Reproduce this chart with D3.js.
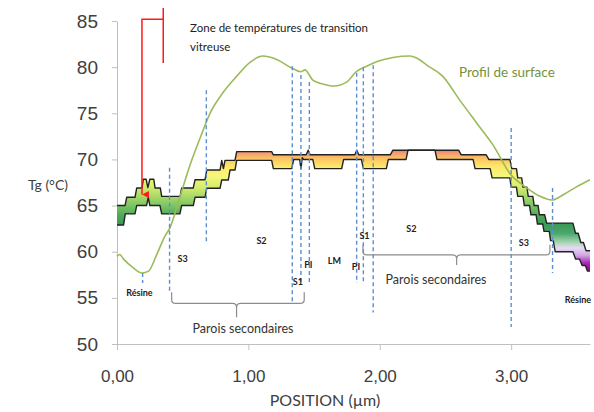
<!DOCTYPE html>
<html>
<head>
<meta charset="utf-8">
<script src="https://cdn.jsdelivr.net/npm/d3@7"></script>
<style>
  body { margin: 0; background: #fff; }
  svg { display: block; font-family: Lato, "Open Sans", sans-serif; }
</style>
</head>
<body>
<svg id="chart" width="594" height="412"></svg>
<script>
// values (position in µm, Tg in °C)
var xTicks = [0, 1, 2, 3];
var xTickLabels = ["0,00", "1,00", "2,00", "3,00"];
var yTicks = [50, 55, 60, 65, 70, 75, 80, 85];

// upper and lower edge of the Tg band
var bandUpper = [
  [0,65.0],[0.061,65.0],[0.074,65.9],[0.137,65.9],[0.15,66.9],[0.19,66.9],[0.20,67.85],[0.222,67.85],
  [0.235,66.95],[0.25,67.85],[0.28,67.85],[0.29,66.9],[0.33,66.9],[0.34,66.0],[0.48,66.0],[0.492,66.9],
  [0.58,66.9],[0.594,67.8],[0.67,67.8],[0.683,68.85],[0.784,68.85],[0.797,69.9],[0.81,69.0],[0.822,69.9],
  [0.898,69.9],[0.911,70.85],[1.177,70.85],[1.19,70.5],[1.44,70.5],[1.455,71.0],[1.47,70.5],[1.81,70.5],
  [1.825,71.0],[1.84,70.5],[2.08,70.5],[2.10,71.0],[2.60,71.0],[2.62,70.5],[2.81,70.5],[2.83,70.0],
  [2.99,70.0],[3.005,69.0],[3.04,69.0],[3.05,68.0],[3.08,68.0],[3.09,67.0],[3.12,67.0],[3.13,66.0],
  [3.165,66.0],[3.175,65.0],[3.205,65.0],[3.215,64.0],[3.255,64.0],[3.27,63.1],[3.47,63.1],[3.49,62.0],
  [3.51,62.0],[3.53,61.0],[3.55,61.0],[3.57,60.1],[3.6,60.1]
];
var bandLower = [
  [0,62.9],[0.05,62.9],[0.063,64.1],[0.137,64.1],[0.15,65.0],[0.225,65.0],[0.238,65.9],[0.25,65.0],
  [0.327,65.0],[0.34,64.1],[0.479,64.1],[0.492,65.0],[0.581,65.0],[0.594,65.9],[0.67,65.9],[0.683,66.87],
  [0.784,66.87],[0.797,67.77],[0.847,67.77],[0.86,68.85],[0.898,68.85],[0.911,69.9],[1.177,69.9],[1.19,69.0],
  [1.33,69.0],[1.345,70.0],[1.39,70.0],[1.40,69.0],[1.41,70.2],[1.42,70.0],[1.49,70.0],[1.505,69.0],
  [1.71,69.0],[1.725,70.0],[1.86,70.0],[1.875,69.0],[2.05,69.0],[2.065,70.0],[2.20,70.0],[2.215,71.0],
  [2.42,71.0],[2.435,70.0],[2.71,70.0],[2.725,69.0],[2.84,69.0],[2.855,68.0],[2.99,68.0],[3.0,67.0],
  [3.04,67.0],[3.05,66.0],[3.09,66.0],[3.10,65.0],[3.14,65.0],[3.15,64.0],[3.19,64.0],[3.20,63.0],
  [3.24,63.0],[3.25,62.2],[3.29,62.2],[3.30,61.2],[3.32,61.2],[3.335,60.0],[3.47,60.0],[3.49,59.2],
  [3.52,59.2],[3.54,58.5],[3.565,58.5],[3.58,57.9],[3.6,57.9]
];

// surface profile
var profilePos = [0, 0.02, 0.05, 0.12, 0.19, 0.24, 0.30, 0.365, 0.40, 0.48, 0.556, 0.632, 0.708, 0.81, 0.91,
  1.01, 1.11, 1.16, 1.22, 1.33, 1.40, 1.43, 1.49, 1.56, 1.65, 1.75, 1.82, 1.90, 1.98, 2.10, 2.23, 2.28,
  2.36, 2.48, 2.61, 2.74, 2.86, 3.0, 3.09, 3.14, 3.22, 3.31, 3.40, 3.50, 3.60];
var profileTg = [59.5, 59.7, 59.2, 58.3, 57.7, 57.9, 59.6, 61.7, 62.5, 66.0, 69.4, 72.3, 75.0, 77.3, 79.0,
  80.5, 81.2, 81.1, 80.8, 79.9, 79.5, 79.7, 78.6, 78.2, 77.95, 78.4, 79.5, 80.1, 80.6, 81.05, 81.2, 81.0,
  80.2, 79.0, 76.4, 73.9, 71.6, 68.3, 67.2, 66.7, 66.0, 65.6, 66.2, 67.05, 67.8];

// dashed boundaries between layers
var vlinePos = [0.195, 0.40, 0.68, 1.334, 1.40, 1.464, 1.824, 1.875, 1.95, 3.0, 3.315];
var vlineTop = [57.7, 69.1, 77.5, 80.1, 79.15, 78.4, 79.4, 80.0, 80.2, 73.4, 66.9];
var vlineBottom = [56.6, 55.6, 61.05, 54.55, 56.4, 56.6, 56.6, 56.6, 53.4, 51.85, 57.7];

// small layer labels [text, pos, Tg]
var layerLabels = [
  ["Résine", 0.171, 55.5], ["S3", 0.50, 59.2], ["S2", 1.10, 61.2], ["S1", 1.377, 56.7],
  ["PI", 1.457, 58.55], ["LM", 1.655, 59.0], ["PI", 1.819, 58.35], ["S1", 1.884, 61.7],
  ["S2", 2.241, 62.45], ["S3", 3.097, 60.95], ["Résine", 3.508, 54.8]
];

var W = 594, H = 412;
var svg = d3.select("#chart");

var x = d3.scaleLinear().domain([0, 3.6]).range([117, 590]);
var y = d3.scaleLinear().domain([50, 85]).range([344, 21]);

// colour of the band follows Tg
var gradTg =    [71.3, 70.7, 70.1, 69.2, 68.2, 67.0, 66.0, 65.0, 64.0, 63.0, 62.0, 61.0, 60.4, 59.6, 58.8, 57.9];
var gradColor = ["#e65a6e", "#f39a72", "#fbc463", "#fde96a", "#f6f77c", "#d6ec6d", "#a9d968", "#7cc466",
  "#52aa58", "#3c9a55", "#4aa66e", "#a6d5b2", "#e6dcf4", "#d3a3e4", "#a62cb6", "#8e008e"];
var defs = svg.append("defs");
var grad = defs.append("linearGradient")
  .attr("id", "tgGrad")
  .attr("gradientUnits", "userSpaceOnUse")
  .attr("x1", 0).attr("x2", 0)
  .attr("y1", y(gradTg[0])).attr("y2", y(gradTg[gradTg.length - 1]));
gradTg.forEach(function(t, i) {
  grad.append("stop")
    .attr("offset", (gradTg[0] - t) / (gradTg[0] - gradTg[gradTg.length - 1]))
    .attr("stop-color", gradColor[i]);
});
defs.append("marker")
  .attr("id", "redHead")
  .attr("viewBox", "0 0 10 10")
  .attr("refX", 5).attr("refY", 10)
  .attr("markerWidth", 7).attr("markerHeight", 7)
  .attr("markerUnits", "userSpaceOnUse")
  .attr("orient", "auto-start-reverse")
  .append("path").attr("d", "M0,0 L10,0 L5,10 Z").attr("fill", "#ff1a1a");

// axes
var yAxis = d3.axisLeft(y).tickValues(yTicks).tickSize(5).tickSizeOuter(0).tickPadding(14);
var gy = svg.append("g").attr("transform", "translate(117,0)").call(yAxis);
gy.selectAll("text").attr("font-size", 19).attr("fill", "#404040");

var xAxis = d3.axisBottom(x).tickValues(xTicks).tickSize(6).tickSizeOuter(0).tickPadding(20)
  .tickFormat(function(d, i) { return xTickLabels[i]; });
var gx = svg.append("g").attr("transform", "translate(0,344)").call(xAxis);
gx.selectAll("text").attr("font-size", 17).attr("fill", "#404040");

svg.selectAll(".domain, .tick line").attr("stroke", "#c0c0c0");

svg.append("text").attr("x", 48).attr("y", 190).attr("text-anchor", "middle")
  .attr("font-size", 14).attr("fill", "#404040").text("Tg (°C)");
svg.append("text").attr("x", 325).attr("y", 406).attr("text-anchor", "middle")
  .attr("font-size", 16).attr("fill", "#404040").text("POSITION (µm)");

// band
var line = d3.line().x(function(d) { return x(d[0]); }).y(function(d) { return y(d[1]); });
svg.append("path")
  .attr("d", line(bandUpper.concat(bandLower.slice().reverse())) + "Z")
  .attr("fill", "url(#tgGrad)");
[bandUpper, bandLower].forEach(function(edge) {
  svg.append("path").attr("d", line(edge))
    .attr("fill", "none").attr("stroke", "#222").attr("stroke-width", 1.4)
    .attr("stroke-linejoin", "round");
});

// surface profile
var profile = profilePos.map(function(p, i) { return [p, profileTg[i]]; });
svg.append("path")
  .attr("d", d3.line().curve(d3.curveMonotoneX)
    .x(function(d) { return x(d[0]); }).y(function(d) { return y(d[1]); })(profile))
  .attr("fill", "none").attr("stroke", "#9bbb59").attr("stroke-width", 1.6);

// dashed layer boundaries
svg.selectAll(".vline").data(vlinePos).enter().append("line")
  .attr("class", "vline")
  .attr("x1", function(d) { return x(d); }).attr("x2", function(d) { return x(d); })
  .attr("y1", function(d, i) { return y(vlineTop[i]); })
  .attr("y2", function(d, i) { return y(vlineBottom[i]); })
  .attr("stroke", "#5b8fd0").attr("stroke-width", 1.4).attr("stroke-dasharray", "4,3");

// braces
function brace(p0, p1, pm, tLine, tEnd, tTip) {
  var x0 = x(p0), x1 = x(p1), xm = x(pm), yl = y(tLine), ye = y(tEnd), yt = y(tTip), r = 4;
  return "M" + x0 + "," + ye + " L" + x0 + "," + (yl - r) + " Q" + x0 + "," + yl + " " + (x0 + r) + "," + yl +
    " L" + (xm - r) + "," + yl + " Q" + xm + "," + yl + " " + xm + "," + (yl + r) + " L" + xm + "," + yt +
    " M" + xm + "," + (yl + r) + " Q" + xm + "," + yl + " " + (xm + r) + "," + yl +
    " L" + (x1 - r) + "," + yl + " Q" + x1 + "," + yl + " " + x1 + "," + (yl - r) + " L" + x1 + "," + ye;
}
svg.append("path").attr("d", brace(0.416, 1.425, 0.91, 54.4, 55.6, 52.9))
  .attr("fill", "none").attr("stroke", "#8c8c8c").attr("stroke-width", 1.2);
svg.append("path").attr("d", brace(1.872, 3.295, 2.585, 59.65, 60.75, 58.55))
  .attr("fill", "none").attr("stroke", "#8c8c8c").attr("stroke-width", 1.2);

svg.append("text").attr("x", x(0.959)).attr("y", y(51.63)).attr("dy", "0.35em")
  .attr("text-anchor", "middle").attr("font-size", 12.5).attr("fill", "#333").text("Parois secondaires");
svg.append("text").attr("x", x(2.428)).attr("y", y(56.93)).attr("dy", "0.35em")
  .attr("text-anchor", "middle").attr("font-size", 12.5).attr("fill", "#333").text("Parois secondaires");

// layer labels
svg.selectAll(".lab").data(layerLabels).enter().append("text")
  .attr("class", "lab")
  .attr("x", function(d) { return x(d[1]); })
  .attr("y", function(d) { return y(d[2]); })
  .attr("dy", "0.35em")
  .attr("text-anchor", "middle")
  .attr("font-size", 9).attr("font-weight", "bold").attr("fill", "#222")
  .text(function(d) { return d[0]; });

svg.append("text").attr("x", x(2.603)).attr("y", y(79.47)).attr("dy", "0.35em")
  .attr("font-size", 13.5).attr("fill", "#76923c").text("Profil de surface");

// red annotation
svg.append("path")
  .attr("d", "M" + x(0.352) + "," + y(86.4) + " L" + x(0.352) + "," + y(80.45))
  .attr("stroke", "#ff1a1a").attr("stroke-width", 1.5).attr("fill", "none");
svg.append("path")
  .attr("d", "M" + x(0.352) + "," + y(85.2) + " L" + x(0.19) + "," + y(85.2) + " L" + x(0.19) + "," + y(66.2))
  .attr("stroke", "#ff1a1a").attr("stroke-width", 1.5).attr("fill", "none")
  .attr("marker-end", "url(#redHead)");
svg.append("text").attr("x", x(0.556)).attr("y", y(84.24)).attr("dy", "0.35em")
  .attr("font-size", 11.5).attr("fill", "#222").text("Zone de températures de transition");
svg.append("text").attr("x", x(0.556)).attr("y", y(82.18)).attr("dy", "0.35em")
  .attr("font-size", 11.5).attr("fill", "#222").text("vitreuse");
</script>
</body>
</html>
